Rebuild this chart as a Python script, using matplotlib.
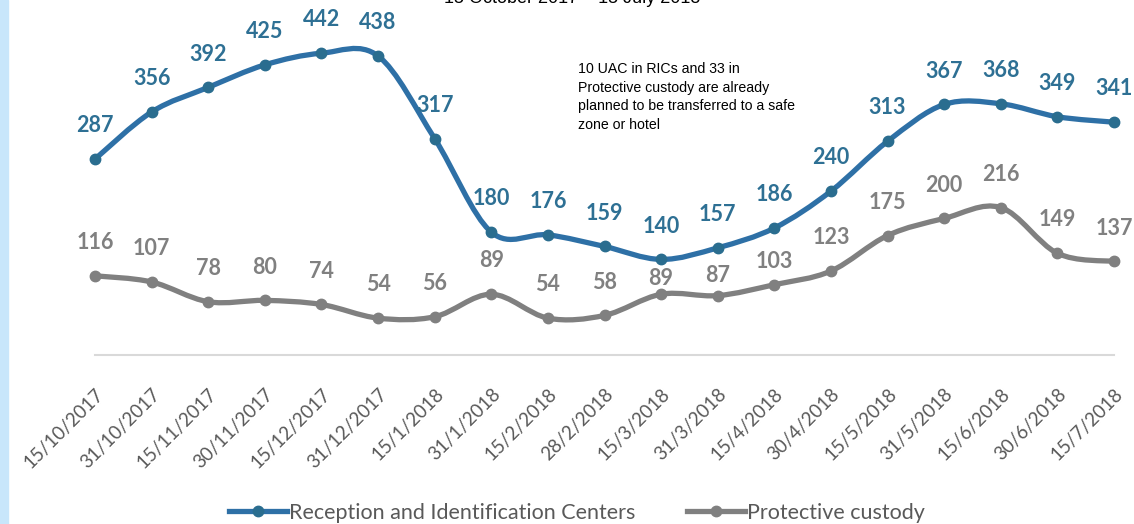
import matplotlib
matplotlib.use("Agg")
import matplotlib.pyplot as plt
from matplotlib.path import Path
from matplotlib.patches import PathPatch, Rectangle
from matplotlib.lines import Line2D
import numpy as np

plt.rcParams.update({"font.family": "Lato", "font.size": 12})

BLUE = "#2E70A6"
BLUE_MK = "#2A6D8F"
BLUE_TX = "#2E7094"
GRAY = "#808080"
TICK = "#595959"
AXIS = "#D9D9D9"
STRIP = "#C8E6FB"

dates = ["15/10/2017", "31/10/2017", "15/11/2017", "30/11/2017", "15/12/2017",
         "31/12/2017", "15/1/2018", "31/1/2018", "15/2/2018", "28/2/2018",
         "15/3/2018", "31/3/2018", "15/4/2018", "30/4/2018", "15/5/2018",
         "31/5/2018", "15/6/2018", "30/6/2018", "15/7/2018"]
ric = [287, 356, 392, 425, 442, 438, 317, 180, 176, 159,
       140, 157, 186, 240, 313, 367, 368, 349, 341]
custody = [116, 107, 78, 80, 74, 54, 56, 89, 54, 58,
           89, 87, 103, 123, 175, 200, 216, 149, 137]
series_names = ["Reception and Identification Centers", "Protective custody"]
note = ("10 UAC in RICs and 33 in\nProtective custody are already\n"
        "planned to be transferred to a safe\nzone or hotel")
title = "15 October 2017 \u2013 15 July 2018"

# label offsets (points above marker); a few grey ones were nudged down
LBL_DY = 24
NUDGE = {10: 11.5, 11: 14.5, 12: 16.5}


def smooth_path(xs, ys):
    # excel-like smoothing: catmull-rom as cubic bezier
    p = np.column_stack([xs, ys]).astype(float)
    p = np.vstack([p[:1], p, p[-1:]])
    verts = [p[1]]
    codes = [Path.MOVETO]
    for i in range(1, len(p) - 2):
        c1 = p[i] + (p[i + 1] - p[i - 1]) / 6
        c2 = p[i + 1] - (p[i + 2] - p[i]) / 6
        verts += [c1, c2, p[i + 1]]
        codes += [Path.CURVE4] * 3
    return Path(verts, codes)


W, H = 1134, 524
fig = plt.figure(figsize=(W / 100, H / 100), dpi=100)
fig.patches.append(Rectangle((0, 0), 8 / W, 1, transform=fig.transFigure,
                             color=STRIP, zorder=0))
ax = fig.add_axes([95 / W, 1 - 355 / H, (1114 - 95) / W, 355 / H])
ax.set_xlim(0, len(dates) - 1)
ax.set_ylim(0, 520)
x = np.arange(len(dates))

for vals, lc, mc, tc, z, nudge in [(custody, GRAY, GRAY, GRAY, 2, NUDGE),
                                   (ric, BLUE, BLUE_MK, BLUE_TX, 4, {})]:
    ax.add_patch(PathPatch(smooth_path(x, vals), fill=False, edgecolor=lc,
                           lw=3.8, capstyle="round", zorder=z, clip_on=False))
    ax.plot(x, vals, "o", color=mc, ms=7.5, zorder=z + 1, clip_on=False)
    for xi, v in zip(x, vals):
        ax.annotate(str(v), (xi, v), xytext=(0, nudge.get(xi, LBL_DY)),
                    textcoords="offset points", ha="center", va="center",
                    fontsize=15.5, fontweight="bold", color=tc, zorder=10,
                    annotation_clip=False)

for s in ["top", "right", "left"]:
    ax.spines[s].set_visible(False)
ax.spines["bottom"].set_color(AXIS)
ax.spines["bottom"].set_linewidth(1.5)
ax.set_yticks([])
ax.set_xticks(x)
ax.set_xticklabels(dates, rotation=45, ha="right", rotation_mode="anchor",
                   fontsize=13.5, color=TICK)
ax.tick_params(axis="x", length=0, pad=22)

fig.text(578 / W, 1 - 62 / H, note, ha="left", va="top", fontsize=10.2,
         family="Liberation Sans", linespacing=1.42, color="black")
fig.text(572 / W, 1 - 3 / H, title, ha="center", va="baseline", fontsize=13,
         family="Liberation Sans", color="black")

handles = [Line2D([], [], color=BLUE, lw=3.8, marker="o", ms=7.5, mfc=BLUE_MK, mec=BLUE_MK),
           Line2D([], [], color=GRAY, lw=3.8, marker="o", ms=7.5, mfc=GRAY, mec=GRAY)]
fig.legend(handles, series_names, loc="lower center", bbox_to_anchor=(577 / W, -0.014),
           ncol=2, frameon=False, fontsize=15.5, labelcolor=TICK, handlelength=2.7,
           handletextpad=0.1, columnspacing=2.4, borderaxespad=0)

fig.savefig("out.png", dpi=100)
